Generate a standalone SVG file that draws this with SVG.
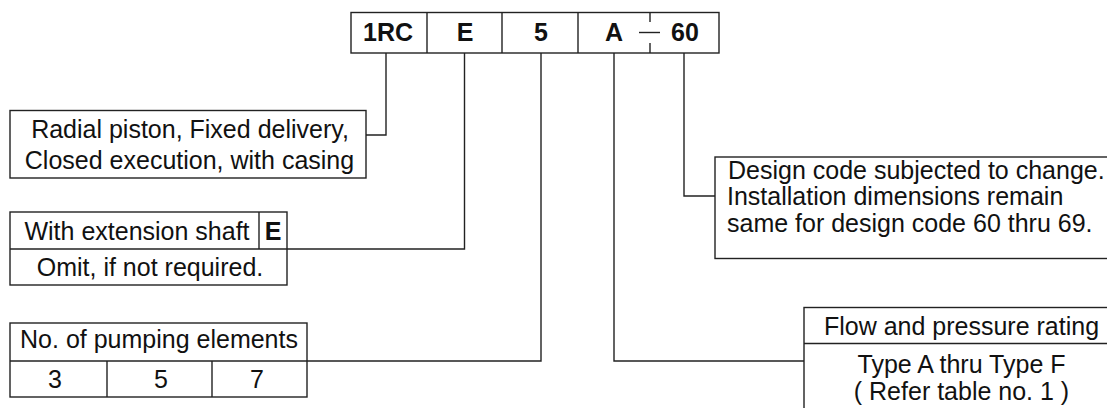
<svg xmlns="http://www.w3.org/2000/svg" width="1107" height="408" viewBox="0 0 1107 408">
<style>
.b{fill:none;stroke:#222;stroke-width:1.4}
.c{fill:none;stroke:#222;stroke-width:1.4}
text{font-family:"Liberation Sans",Arial,sans-serif;font-size:25px;fill:#111}
.m{text-anchor:middle}
.h{font-weight:bold;font-size:25px}
</style>
<rect width="1107" height="408" fill="#fff"/>
<g id="code">
<rect class="b" x="351" y="12.5" width="368" height="40.5"/>
<line class="b" x1="427" y1="12.5" x2="427" y2="53"/>
<line class="b" x1="502" y1="12.5" x2="502" y2="53"/>
<line class="b" x1="578" y1="12.5" x2="578" y2="53"/>
<line class="b" x1="650" y1="12.5" x2="650" y2="22"/>
<line class="b" x1="650" y1="43" x2="650" y2="53"/>
<line class="b" x1="639" y1="32.5" x2="660" y2="32.5"/>
<text class="m h" x="388" y="40.5">1RC</text>
<text class="m h" x="465" y="40.5">E</text>
<text class="m h" x="541" y="40.5">5</text>
<text class="m h" x="614" y="40.5">A</text>
<text class="m h" x="685" y="40.5">60</text>
</g>
<g id="radial">
<rect class="b" x="10" y="110.5" width="356" height="67.5"/>
<text class="m" x="190" y="137.5">Radial piston, Fixed delivery,</text>
<text class="m" x="189.5" y="168.5">Closed execution, with casing</text>
</g>
<g id="extension">
<rect class="b" x="10" y="212" width="277" height="73"/>
<line class="b" x1="10" y1="249" x2="287" y2="249"/>
<line class="b" x1="259" y1="212" x2="259" y2="249"/>
<text class="m" x="137" y="240">With extension shaft</text>
<text class="m" x="273" y="240" font-weight="bold">E</text>
<text class="m" x="150" y="276">Omit, if not required.</text>
</g>
<g id="elements">
<rect class="b" x="10" y="323" width="297" height="74"/>
<line class="b" x1="10" y1="361" x2="307" y2="361"/>
<line class="b" x1="107" y1="361" x2="107" y2="397"/>
<line class="b" x1="212" y1="361" x2="212" y2="397"/>
<text class="m" x="159" y="348">No. of pumping elements</text>
<text class="m" x="55" y="388">3</text>
<text class="m" x="161" y="388">5</text>
<text class="m" x="257" y="388">7</text>
</g>
<g id="design">
<rect class="b" x="715" y="157" width="420" height="101.5"/>
<text x="728" y="178.5">Design code subjected to change.</text>
<text x="727" y="205">Installation dimensions remain</text>
<text x="727" y="232">same for design code 60 thru 69.</text>
</g>
<g id="flow">
<rect class="b" x="804" y="307.5" width="330" height="120"/>
<line class="b" x1="804" y1="343.5" x2="1134" y2="343.5"/>
<text class="m" x="961.5" y="335">Flow and pressure rating</text>
<text class="m" x="961.5" y="373">Type A thru Type F</text>
<text class="m" x="961.5" y="399.5">( Refer table no. 1 )</text>
</g>
<g id="connectors">
<polyline class="c" points="386,53 386,135 366,135"/>
<polyline class="c" points="464.5,53 464.5,249 287,249"/>
<polyline class="c" points="541,53 541,361 307,361"/>
<polyline class="c" points="614,53 614,361 804,361"/>
<polyline class="c" points="684,53 684,196 715,196"/>
</g>
</svg>
